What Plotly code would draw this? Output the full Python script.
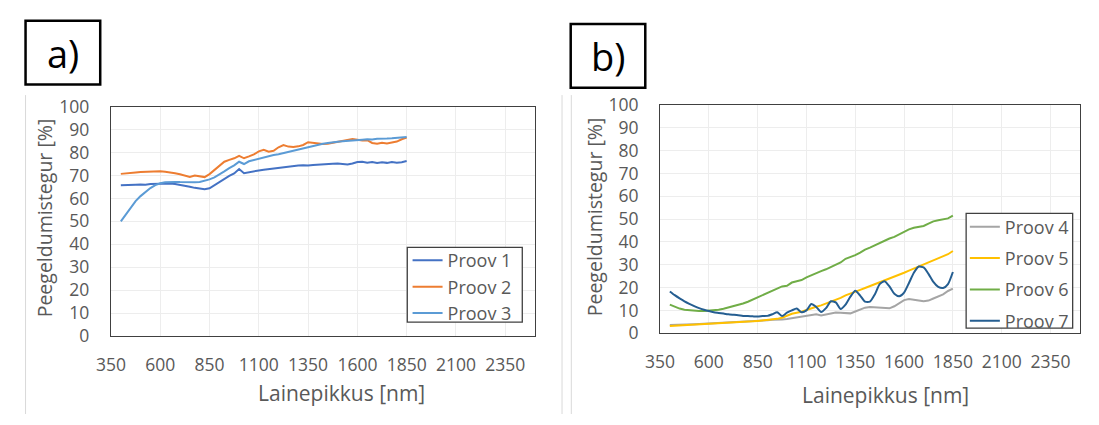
import plotly.graph_objects as go

# ---------------- data ----------------
wavelength = [400, 425, 450, 475, 500, 525, 550, 575, 600, 625,
              650, 675, 700, 725, 750, 775, 800, 825, 850, 875,
              900, 925, 950, 975, 1000, 1025, 1050, 1075, 1100, 1125,
              1150, 1175, 1200, 1225, 1250, 1275, 1300, 1325, 1350, 1375,
              1400, 1425, 1450, 1475, 1500, 1525, 1550, 1575, 1600, 1625,
              1650, 1675, 1700, 1725, 1750, 1775, 1800, 1825, 1850]

proov1 = [65.7, 65.9, 65.8, 66.0, 66.1, 66.0, 66.3, 66.4, 66.5, 66.6,
          66.5, 66.3, 66.0, 65.6, 65.1, 64.6, 64.2, 64.0, 64.4, 65.8,
          67.3, 68.6, 69.8, 70.9, 72.8, 71.0, 71.5, 72.0, 72.2, 72.5,
          72.8, 73.0, 73.3, 73.6, 73.8, 74.1, 74.4, 74.5, 74.3, 74.6,
          74.8, 74.7, 75.0, 75.1, 75.2, 75.0, 74.8, 75.2, 75.9, 76.0,
          75.6, 75.9, 75.4, 75.8, 75.5, 75.9, 75.6, 75.8, 76.3]
proov2 = [70.7, 71.0, 71.2, 71.3, 71.5, 71.6, 71.6, 71.8, 71.8, 71.6,
          71.4, 71.0, 70.5, 70.0, 69.4, 70.0, 69.5, 69.3, 70.6, 72.5,
          74.3, 76.0, 76.8, 77.5, 78.6, 77.5, 78.3, 79.2, 80.5, 81.2,
          80.4, 80.8, 82.3, 83.3, 82.6, 82.4, 82.7, 83.3, 84.5, 84.2,
          83.9, 83.7, 83.8, 84.2, 84.4, 84.8, 85.2, 85.9, 85.6, 85.3,
          85.4, 84.2, 83.8, 84.3, 84.0, 84.5, 84.8, 85.8, 86.5]
proov3 = [50.0, 53.0, 56.2, 58.8, 61.0, 62.8, 64.5, 65.8, 66.6, 67.0,
          67.2, 67.2, 67.1, 67.0, 66.9, 67.0, 67.2, 67.6, 68.3, 69.2,
          70.4, 71.8, 73.2, 74.4, 76.0, 75.0, 76.2, 76.8, 77.3, 77.9,
          78.4, 78.9, 79.3, 79.8, 80.3, 80.9, 81.3, 82.0, 82.6, 83.0,
          83.5, 83.8, 84.2, 84.3, 84.7, 84.9, 85.0, 85.3, 85.5, 85.6,
          85.8, 85.7, 86.0, 85.9, 86.1, 86.2, 86.4, 86.5, 86.8]
proov4 = [3.6, 3.6, 3.7, 3.8, 3.8, 3.9, 4.0, 4.1, 4.2, 4.3,
          4.4, 4.5, 4.6, 4.7, 4.9, 5.0, 5.2, 5.3, 5.4, 5.6,
          5.7, 5.9, 5.8, 6.0, 6.2, 6.6, 7.0, 7.3, 7.6, 8.0,
          8.3, 7.8, 8.2, 8.9, 9.1, 9.0, 8.8, 8.7, 9.5, 10.4,
          11.2, 11.5, 11.4, 11.3, 10.9, 10.9, 11.8, 13.2, 14.5, 15.0,
          14.8, 14.3, 14.0, 14.3, 15.2, 16.0, 17.0, 18.5, 19.5]
proov5 = [3.2, 3.3, 3.4, 3.5, 3.6, 3.7, 3.8, 3.9, 4.0, 4.1,
          4.2, 4.3, 4.4, 4.5, 4.7, 4.8, 5.0, 5.2, 5.4, 5.6,
          5.8, 6.0, 6.3, 6.8, 7.8, 8.5, 9.0, 9.4, 10.2, 11.0,
          11.6, 12.2, 13.0, 13.8, 14.6, 15.5, 16.6, 17.3, 18.2, 19.0,
          19.8, 20.6, 21.4, 22.2, 23.0, 23.8, 24.7, 25.6, 26.5, 27.4,
          28.3, 29.3, 30.0, 30.9, 31.8, 32.8, 33.8, 34.6, 36.0]
proov6 = [12.5, 11.5, 10.8, 10.3, 10.0, 9.8, 9.7, 9.7, 9.8, 10.0,
          10.3, 10.7, 11.2, 11.7, 12.3, 13.0, 13.8, 14.8, 15.8, 16.8,
          17.8, 18.8, 19.8, 20.5, 20.8, 22.2, 22.8, 23.3, 24.5, 25.5,
          26.4, 27.2, 28.0, 29.0, 30.0, 31.0, 32.6, 33.3, 34.2, 35.3,
          36.6, 37.5, 38.5, 39.6, 40.5, 41.5, 42.2, 43.3, 44.5, 45.5,
          46.2, 46.5, 47.0, 48.0, 49.0, 49.5, 49.8, 50.3, 51.5]
proov7 = [18.3, 16.7, 15.3, 14.0, 12.9, 11.9, 11.0, 10.3, 9.7, 9.2,
          8.9, 8.6, 8.3, 8.1, 7.9, 7.6, 7.5, 7.4, 7.3, 7.5,
          7.6, 8.3, 9.2, 7.5, 9.0, 10.0, 10.8, 9.2, 10.0, 12.8,
          11.5, 9.3, 11.0, 14.0, 13.5, 10.6, 12.5, 16.0, 18.6, 16.5,
          13.8, 13.8, 17.0, 21.5, 22.8, 20.5, 17.3, 16.2, 17.8, 22.0,
          26.5, 29.2, 28.8, 26.0, 22.5, 20.3, 19.8, 21.5, 26.8]

x_ticks = [350, 600, 850, 1100, 1350, 1600, 1850, 2100, 2350]
y_ticks = [0, 10, 20, 30, 40, 50, 60, 70, 80, 90, 100]

x_title = "Lainepikkus [nm]"
y_title = "Peegeldumistegur [%]"

panel_a = [("Proov 1", proov1, "#4472C4"),
           ("Proov 2", proov2, "#ED7D31"),
           ("Proov 3", proov3, "#5B9BD5")]
panel_b = [("Proov 4", proov4, "#A5A5A5"),
           ("Proov 5", proov5, "#FFC000"),
           ("Proov 6", proov6, "#70AD47"),
           ("Proov 7", proov7, "#255E91")]

# ---------------- geometry (pixels of the 1099x425 picture) ----------------
W, H = 1099, 425
FONT = "Open Sans"
GREY = "#595959"


def px(xs):
    return xs / W


def py(ys):
    return 1 - ys / H


fig = go.Figure()

for name, vals, col in panel_a:
    fig.add_trace(go.Scatter(x=wavelength, y=vals, name=name, mode="lines",
                             line=dict(color=col, width=2),
                             xaxis="x", yaxis="y", legend="legend"))
for name, vals, col in panel_b:
    fig.add_trace(go.Scatter(x=wavelength, y=vals, name=name, mode="lines",
                             line=dict(color=col, width=2,
                                       shape="spline" if name == "Proov 7" else "linear",
                                       smoothing=0.6),
                             xaxis="x2", yaxis="y2", legend="legend2",
                             legendgroup=name))

axis_common = dict(showgrid=True, gridcolor="#EDEDED", gridwidth=1,
                   showline=True, linecolor="#404040", linewidth=1.3, mirror=True,
                   ticks="", zeroline=False,
                   tickfont=dict(family=FONT, size=17.5, color=GREY))

xa = dict(axis_common, range=[350, 2500], tickmode="array", tickvals=x_ticks,
          ticklabelstandoff=13)
ya = dict(axis_common, range=[0, 100], tickmode="array", tickvals=y_ticks,
          ticklabelstandoff=17)

LEG_FS = 18
h_item = LEG_FS * 1.3 + 3

fig.update_layout(
    width=W, height=H,
    margin=dict(l=0, r=0, t=0, b=0),
    paper_bgcolor="white", plot_bgcolor="white",
    font=dict(family=FONT, color=GREY),
    xaxis=dict(xa, domain=[px(97.3), px(527)], anchor="y"),
    yaxis=dict(ya, domain=[py(342.3), py(99.3)], anchor="x"),
    xaxis2=dict(xa, domain=[px(654), px(1079.5)], anchor="y2"),
    yaxis2=dict(ya, domain=[py(339.4), py(97.4)], anchor="x2"),
    legend=dict(x=px(398), y=py(261 - 5 - h_item / 2),
                xanchor="left", yanchor="top",
                bgcolor="rgba(0,0,0,0)", borderwidth=0,
                font=dict(family=FONT, size=LEG_FS, color=GREY),
                tracegroupgap=0),
    legend2=dict(x=px(963), y=py(225.5 - 5 - h_item / 2),
                 xanchor="left", yanchor="top",
                 bgcolor="rgba(0,0,0,0)", borderwidth=0,
                 font=dict(family=FONT, size=LEG_FS, color=GREY),
                 traceorder="grouped", tracegroupgap=31.3 - h_item),
    showlegend=True,
)

shapes = []
# legend frames
shapes.append(dict(type="rect", xref="paper", yref="paper", layer="above",
                   x0=px(397.7), x1=px(514.3), y0=py(327.7), y1=py(248.3),
                   fillcolor="white", line=dict(color="#404040", width=1.3)))
shapes.append(dict(type="rect", xref="paper", yref="paper", layer="above",
                   x0=px(964.3), x1=px(1072.3), y0=py(334), y1=py(212.3),
                   fillcolor="white", line=dict(color="#404040", width=1.3)))
# panel label boxes
shapes.append(dict(type="rect", xref="paper", yref="paper",
                   x0=px(10.7), x1=px(86.4), y0=py(75.7), y1=py(8.3),
                   line=dict(color="black", width=2.5)))
shapes.append(dict(type="rect", xref="paper", yref="paper",
                   x0=px(563.4), x1=px(639), y0=py(79.3), y1=py(11.7),
                   line=dict(color="black", width=2.5)))
# faint chart-area borders
for xp in (10.7, 554.6, 564):
    shapes.append(dict(type="line", xref="paper", yref="paper",
                       x0=px(xp), x1=px(xp), y0=0, y1=py(87),
                       line=dict(color="#D9D9D9", width=1)))
fig.update_layout(shapes=shapes)


def ann(text, xs, ys, size, color=GREY, angle=0):
    return dict(text=text, x=px(xs), y=py(ys), xref="paper", yref="paper",
                xanchor="center", yanchor="middle", showarrow=False,
                textangle=angle, font=dict(family=FONT, size=size, color=color))


annotations = [
    ann("a)", 48.5, 42, 38, "black"),
    ann("b)", 601, 45.5, 38, "black"),
    ann(x_title, 331, 403, 21),
    ann(x_title, 883, 405, 21),
    ann(y_title, 30, 217, 19.5, angle=-90),
    ann(y_title, 587.5, 216, 19.5, angle=-90),
]
fig.update_layout(annotations=annotations)

# pin the graph to the top-left corner of the page (no body margin / scrollbars)
pin_js = (
    "document.documentElement.style.margin='0';"
    "document.documentElement.style.overflow='hidden';"
    "document.body.style.margin='0';"
    "document.body.style.overflow='hidden';"
    "var gd=document.getElementById('{plot_id}');"
    "gd.style.position='absolute';gd.style.left='0px';gd.style.top='0px';"
)

fig.write_html("out.html", post_script=pin_js,
               config={"displayModeBar": False})
